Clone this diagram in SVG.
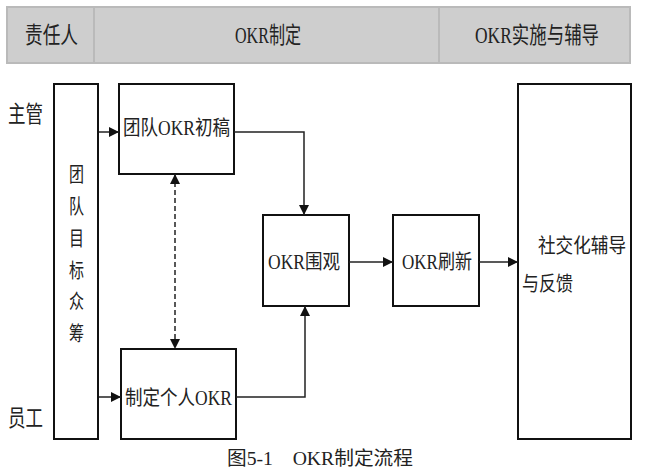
<svg xmlns="http://www.w3.org/2000/svg" width="648" height="475" viewBox="0 0 648 475">
<style>
.t{font-family:"Liberation Serif","Noto Sans CJK SC",serif;fill:#222}
.hd{font-size:23px}
.nd{font-size:20px}
.box{fill:#fff;stroke:#111;stroke-width:2}
.hcell{fill:#cecece;stroke:#bababa;stroke-width:2}
.ln{fill:none;stroke:#222;stroke-width:1.5}
.dash{stroke-dasharray:5 3}
</style>
<defs>
<marker id="ah" viewBox="0 0 10 10" refX="10" refY="5" markerWidth="10" markerHeight="10" markerUnits="userSpaceOnUse" orient="auto-start-reverse">
<path d="M0,0 L10,5 L0,10 Z" fill="#111"/>
</marker>
</defs>
<rect width="648" height="475" fill="#fff"/>
<g id="header">
<rect class="hcell" x="7" y="7" width="87" height="56"/>
<rect class="hcell" x="94" y="7" width="345" height="56"/>
<rect class="hcell" x="439" y="7" width="191" height="56"/>
<text class="t hd" x="25" y="43" textLength="53" lengthAdjust="spacingAndGlyphs">责任人</text>
<text class="t hd" x="235" y="43" textLength="66" lengthAdjust="spacingAndGlyphs">OKR制定</text>
<text class="t hd" x="475" y="43" textLength="124" lengthAdjust="spacingAndGlyphs">OKR实施与辅导</text>
</g>
<g id="roles">
<text class="t hd" x="8" y="122" textLength="35" lengthAdjust="spacingAndGlyphs">主管</text>
<text class="t hd" x="8" y="426" textLength="35" lengthAdjust="spacingAndGlyphs">员工</text>
</g>
<g id="node-team-goal">
<rect class="box" x="54" y="84" width="44" height="355"/>
<text class="t nd" x="69" y="182" textLength="15" lengthAdjust="spacingAndGlyphs">团</text>
<text class="t nd" x="69" y="214" textLength="15" lengthAdjust="spacingAndGlyphs">队</text>
<text class="t nd" x="69" y="246" textLength="15" lengthAdjust="spacingAndGlyphs">目</text>
<text class="t nd" x="69" y="278" textLength="15" lengthAdjust="spacingAndGlyphs">标</text>
<text class="t nd" x="69" y="309" textLength="15" lengthAdjust="spacingAndGlyphs">众</text>
<text class="t nd" x="69" y="341" textLength="15" lengthAdjust="spacingAndGlyphs">筹</text>
</g>
<g id="node-team-draft">
<rect class="box" x="119" y="84" width="115" height="90"/>
<text class="t nd" x="123" y="135" textLength="107" lengthAdjust="spacingAndGlyphs">团队OKR初稿</text>
</g>
<g id="node-personal">
<rect class="box" x="121" y="349" width="115" height="90"/>
<text class="t nd" x="125" y="405" textLength="107" lengthAdjust="spacingAndGlyphs">制定个人OKR</text>
</g>
<g id="node-watch">
<rect class="box" x="263" y="215" width="86" height="91"/>
<text class="t nd" x="268" y="269" textLength="72" lengthAdjust="spacingAndGlyphs">OKR围观</text>
</g>
<g id="node-refresh">
<rect class="box" x="393" y="215" width="86" height="91"/>
<text class="t nd" x="402" y="269" textLength="70" lengthAdjust="spacingAndGlyphs">OKR刷新</text>
</g>
<g id="node-social">
<rect class="box" x="518" y="84" width="113" height="355"/>
<text class="t nd" x="538" y="253" textLength="88" lengthAdjust="spacingAndGlyphs">社交化辅导</text>
<text class="t nd" x="522" y="291" textLength="51" lengthAdjust="spacingAndGlyphs">与反馈</text>
</g>
<g id="connectors">
<path class="ln" d="M99,132 H119" marker-end="url(#ah)"/>
<path class="ln" d="M99,397 H121" marker-end="url(#ah)"/>
<path class="ln" d="M234,132 H304 V215" marker-end="url(#ah)"/>
<path class="ln" d="M236,397 H305 V306" marker-end="url(#ah)"/>
<path class="ln" d="M349,262 H393" marker-end="url(#ah)"/>
<path class="ln" d="M479,262 H518" marker-end="url(#ah)"/>
<path class="ln dash" d="M175,174 V349" marker-start="url(#ah)" marker-end="url(#ah)"/>
</g>
<text id="caption" class="t" style="font-size:19px" x="227" y="465" textLength="186" lengthAdjust="spacingAndGlyphs">图5-1　OKR制定流程</text>
</svg>
